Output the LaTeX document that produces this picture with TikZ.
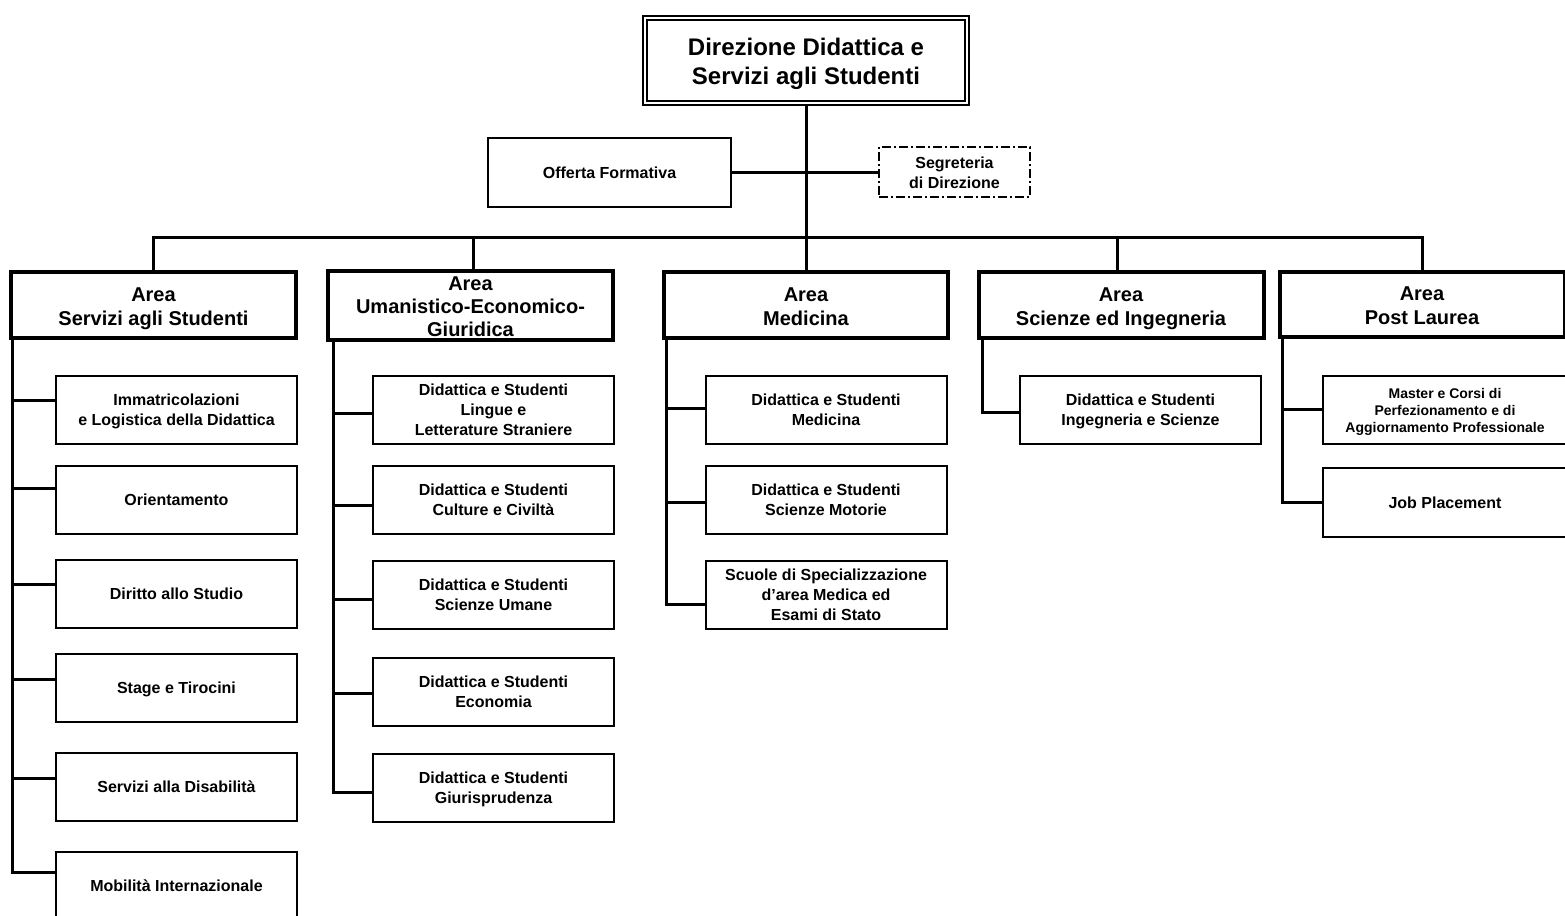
\documentclass[tikz,border=0pt]{standalone}
\usepackage{fontspec}
\setmainfont{Liberation Sans}
\newcommand\Tx[2][0.85pt]{\raisebox{-#1}[\height][\depth]{\begin{tabular}{@{}c@{}}#2\end{tabular}}}
\begin{document}
\begin{tikzpicture}[x=0.5pt,y=-0.5pt,
  box/.style={draw, line width=1pt, inner sep=0pt, fill=white,
    font=\bfseries\fontsize{8}{10}\selectfont},
  child/.style={box, minimum width=120.5pt, minimum height=34pt},
  area/.style={draw, line width=2pt, inner sep=0pt, fill=white,
    minimum width=142.5pt, minimum height=33pt,
    font=\bfseries\fontsize{10}{12}\selectfont},
  conn/.style={line width=1.5pt},
  dashdot/.style={dash pattern=on 4.5pt off 1.5pt on 1pt off 1.5pt}]
\useasboundingbox (0,0) rectangle (1565,916);
\clip (0,0) rectangle (1565,916);
% top
\node[draw, double, line width=0.8pt, double distance=1pt, inner sep=0pt,
  minimum width=161pt, minimum height=42.5pt,
  font=\bfseries\fontsize{12}{14.5}\selectfont] (top) at (806,60.5)
  {\Tx[1.9pt]{Direzione Didattica e\\Servizi agli Studenti}};
\node[box, minimum width=121.5pt, minimum height=34.5pt] (off) at (609.5,172.5) {\Tx[1.1pt]{Offerta Formativa}};
\node[box, dashdot, minimum width=75.5pt, minimum height=25pt] (seg) at (954.5,172) {\Tx[1.35pt]{Segreteria\\di Direzione}};
\coordinate (bus) at (806,237);
\draw[conn] (top.south) -- (bus);
\draw[conn] (off.east) -- (seg.west |- off.east);
% areas
\node[area] (a1) at (153.5,305) {\Tx[1.6pt]{Area\\Servizi agli Studenti}};
\node[area, font=\bfseries\fontsize{10}{11.5}\selectfont] (a2) at (470.5,305) {\Tx[1.7pt]{Area\\Umanistico-Economico-\\Giuridica}};
\node[area, minimum width=142pt] (a3) at (806,305) {\Tx[1.6pt]{Area\\Medicina}};
\node[area] (a4) at (1121,305) {\Tx[1.6pt]{Area\\Scienze ed Ingegneria}};
\node[area, minimum height=32.5pt] (a5) at (1422,304.5) {\Tx[1.6pt]{Area\\Post Laurea}};
\draw[conn] (a1.north) -- (a1.north |- bus) -- (a5.north |- bus) -- (a5.north);
\draw[conn] ([xshift=1.5pt]a2.north |- bus) -- ([xshift=1.5pt]a2.north);
\draw[conn] (bus) -- (a3.north);
\draw[conn] ([xshift=-2pt]a4.north |- bus) -- ([xshift=-2pt]a4.north);
% column 1
\node[child] (c11) at (176.5,410) {\Tx{Immatricolazioni\\e Logistica della Didattica}};
\node[child] (c12) at (176.5,500) {\Tx{Orientamento}};
\node[child] (c13) at (176.5,593.5) {\Tx{Diritto allo Studio}};
\node[child] (c14) at (176.5,688) {\Tx{Stage e Tirocini}};
\node[child] (c15) at (176.5,787) {\Tx{Servizi alla Disabilità}};
\node[child] (c16) at (176.5,886) {\Tx{Mobilità Internazionale}};
\coordinate (s1) at ([xshift=1.5pt]a1.south west);
\draw[conn] (s1) |- ([yshift=5pt]c11.west);
\draw[conn] (s1) |- ([yshift=6pt]c12.west);
\draw[conn] (s1) |- ([yshift=4.75pt]c13.west);
\draw[conn] (s1) |- ([yshift=4.5pt]c14.west);
\draw[conn] (s1) |- ([yshift=4.5pt]c15.west);
\draw[conn] (s1) |- ([yshift=7pt]c16.west);
% column 2
\node[child] (c21) at (493.5,410) {\Tx{Didattica e Studenti\\Lingue e\\Letterature Straniere}};
\node[child] (c22) at (493.5,500) {\Tx{Didattica e Studenti\\Culture e Civiltà}};
\node[child] (c23) at (493.5,594.5) {\Tx{Didattica e Studenti\\Scienze Umane}};
\node[child] (c24) at (493.5,691.5) {\Tx{Didattica e Studenti\\Economia}};
\node[child] (c25) at (493.5,787.5) {\Tx{Didattica e Studenti\\Giurisprudenza}};
\coordinate (s2) at ([xshift=3.5pt]a2.south west);
\draw[conn] (s2) |- ([yshift=-1.5pt]c21.west);
\draw[conn] (s2) |- ([yshift=-2.5pt]c22.west);
\draw[conn] (s2) |- ([yshift=-2.25pt]c23.west);
\draw[conn] (s2) |- ([yshift=-0.75pt]c24.west);
\draw[conn] (s2) |- ([yshift=-2.25pt]c25.west);
% column 3
\node[child] (c31) at (826,410) {\Tx{Didattica e Studenti\\Medicina}};
\node[child] (c32) at (826,500) {\Tx{Didattica e Studenti\\Scienze Motorie}};
\node[child] (c33) at (826,594.5) {\Tx{Scuole di Specializzazione\\d’area Medica ed\\Esami di Stato}};
\coordinate (s3) at ([xshift=2pt]a3.south west);
\draw[conn] (s3) |- ([yshift=1pt]c31.west);
\draw[conn] (s3) |- ([yshift=-1pt]c32.west);
\draw[conn] (s3) |- ([yshift=-4.75pt]c33.west);
% column 4
\node[child] (c41) at (1140.5,410) {\Tx{Didattica e Studenti\\Ingegneria e Scienze}};
\coordinate (s4) at ([xshift=3pt]a4.south west);
\draw[conn] (s4) |- ([yshift=-1pt]c41.west);
% column 5
\node[child, font=\bfseries\fontsize{7}{8.5}\selectfont, minimum width=122pt] (c51) at (1445,410) {\Tx[0.8pt]{Master e Corsi di\\Perfezionamento e di\\Aggiornamento Professionale}};
\node[child, minimum width=122pt, minimum height=34.5pt] (c52) at (1445,502.5) {\Tx{Job Placement}};
\coordinate (s5) at ([xshift=2.5pt]a5.south west);
\draw[conn] (s5) |- ([yshift=0.5pt]c51.west);
\draw[conn] (s5) |- ([yshift=0.25pt]c52.west);
\end{tikzpicture}
\end{document}
